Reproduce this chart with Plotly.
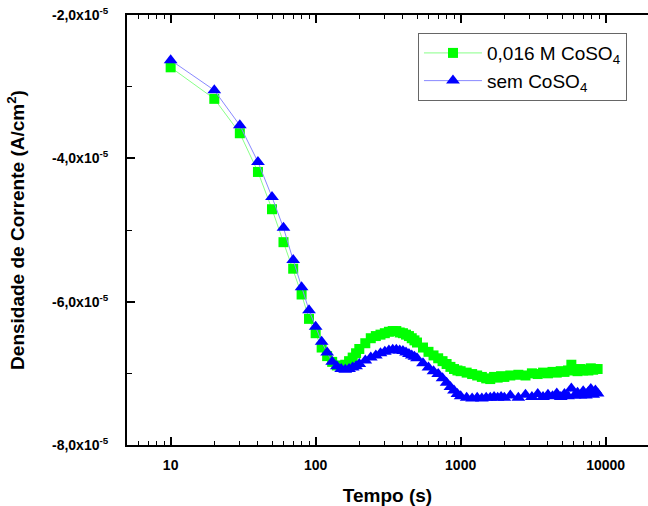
import plotly.graph_objects as go

# Time (s)
tempo = [10, 20, 30, 40, 50, 60, 70, 80, 90, 100,
         110, 120, 130, 140, 150, 160, 170, 180, 190, 200,
         220, 240, 260, 280, 300, 320, 340, 360, 380, 400, 420, 440, 460, 480, 500,
         550, 600, 650, 700, 750, 800, 850, 900, 950, 1000,
         1100, 1200, 1300, 1400, 1500, 1600, 1700, 1800, 1900, 2000,
         2200, 2500, 2800, 3100, 3400, 3700, 4000, 4300, 4600, 4900, 5200, 5500,
         5800, 6100, 6400, 6700, 7000, 7300, 7600, 7900, 8200, 8500, 8800]

# Current density, in units of 1e-5 A/cm2
com_coso4 = [-2.73, -3.17, -3.65, -4.19, -4.71, -5.17, -5.54, -5.90, -6.24, -6.44,
             -6.64, -6.76, -6.84, -6.89, -6.90, -6.88, -6.83, -6.78, -6.72, -6.66,
             -6.58, -6.51, -6.48, -6.46, -6.44, -6.42, -6.41, -6.41, -6.43, -6.44, -6.46, -6.48, -6.51, -6.54, -6.57,
             -6.64, -6.70, -6.75, -6.79, -6.83, -6.87, -6.91, -6.94, -6.96, -6.97,
             -6.99, -7.01, -7.03, -7.05, -7.07, -7.08, -7.05, -7.06, -7.04, -7.05,
             -7.03, -7.02, -7.03, -7.00, -7.01, -6.99, -7.00, -6.98, -6.99, -6.97, -6.98, -6.96,
             -6.88, -6.95, -6.97, -6.94, -6.96, -6.95, -6.96, -6.93, -6.95, -6.94, -6.94]

sem_coso4 = [-2.63, -3.05, -3.54, -4.05, -4.54, -4.97, -5.42, -5.80, -6.12, -6.35,
             -6.56, -6.71, -6.84, -6.90, -6.94, -6.95, -6.94, -6.92, -6.90, -6.87,
             -6.82, -6.78, -6.75, -6.72, -6.70, -6.68, -6.67, -6.67, -6.68, -6.69, -6.71, -6.73, -6.75, -6.77, -6.79,
             -6.86, -6.92, -6.97, -7.01, -7.07, -7.13, -7.19, -7.24, -7.29, -7.32,
             -7.34, -7.35, -7.34, -7.35, -7.34, -7.34, -7.33, -7.34, -7.33, -7.34,
             -7.31, -7.34, -7.30, -7.33, -7.29, -7.33, -7.30, -7.32, -7.28, -7.33, -7.29, -7.32,
             -7.21, -7.31, -7.27, -7.31, -7.25, -7.31, -7.26, -7.22, -7.30, -7.24, -7.28]

y_tick_vals = [-8e-5, -6e-5, -4e-5, -2e-5]
y_tick_text = ["-8,0x10<sup>-5</sup>", "-6,0x10<sup>-5</sup>", "-4,0x10<sup>-5</sup>", "-2,0x10<sup>-5</sup>"]
y_minor_vals = [-7e-5, -5e-5, -3e-5]
x_tick_vals = [10, 100, 1000, 10000]
x_minor_vals = [6, 7, 8, 9, 20, 30, 40, 50, 60, 70, 80, 90,
                200, 300, 400, 500, 600, 700, 800, 900,
                2000, 3000, 4000, 5000, 6000, 7000, 8000, 9000, 20000]

FONT = "Liberation Sans, Arial, sans-serif"

fig = go.Figure()
fig.add_trace(go.Scatter(
    x=tempo, y=[v * 1e-5 for v in com_coso4], mode="lines+markers",
    name="0,016 M CoSO<sub>4</sub>",
    line=dict(color="#88ff88", width=1),
    marker=dict(symbol="square", size=10, color="#00ff00", line=dict(width=0)),
))
fig.add_trace(go.Scatter(
    x=tempo, y=[v * 1e-5 for v in sem_coso4], mode="lines+markers",
    name="sem CoSO<sub>4</sub>",
    line=dict(color="#8888ff", width=1),
    marker=dict(symbol="triangle-up", size=12, color="#0000ff", line=dict(width=0)),
))

fig.update_layout(
    width=648, height=506,
    margin=dict(l=127, r=0, t=15, b=61),
    paper_bgcolor="white", plot_bgcolor="white",
    font=dict(family=FONT, color="black"),
    showlegend=True,
    legend=dict(
        x=0.5585, y=0.958, xanchor="left", yanchor="top",
        bordercolor="#666666", borderwidth=1, bgcolor="white",
        font=dict(size=19, family=FONT, color="black"),
        tracegroupgap=0, itemwidth=58,
    ),
)
fig.update_xaxes(
    type="log", range=[0.699, 4.292],
    tickvals=x_tick_vals, ticktext=[str(v) for v in x_tick_vals],
    ticks="inside", ticklen=8, tickwidth=1.5, tickcolor="black",
    minor=dict(tickvals=x_minor_vals, ticks="inside", ticklen=4, tickwidth=1.2, tickcolor="black"),
    showline=True, linewidth=2, linecolor="black", mirror="ticks",
    showgrid=False, zeroline=False,
    ticklabelstandoff=6,
    tickfont=dict(size=14, family=FONT, color="black", weight="bold"),
    title=dict(text="<b>Tempo (s)</b>", font=dict(size=19, family=FONT), standoff=17),
)
fig.update_yaxes(
    range=[-8e-5, -2e-5],
    tickvals=y_tick_vals, ticktext=y_tick_text,
    ticks="inside", ticklen=8, tickwidth=1.5, tickcolor="black",
    minor=dict(tickvals=y_minor_vals, ticks="inside", ticklen=5, tickwidth=1.2, tickcolor="black"),
    showline=True, linewidth=2, linecolor="black", mirror=False,
    showgrid=False, zeroline=False,
    ticklabelstandoff=14,
    tickfont=dict(size=14, family=FONT, color="black", weight="bold"),
    title=dict(text="<b>Densidade de Corrente (A/cm<sup>2</sup>)</b>", font=dict(size=19, family=FONT), standoff=22),
)

fig.write_html("out.html")
